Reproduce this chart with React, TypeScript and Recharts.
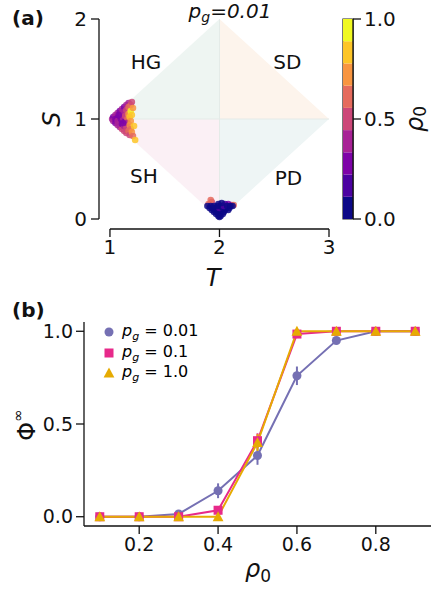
import React from "react";
import {
  ScatterChart,
  Scatter,
  XAxis,
  YAxis,
  ReferenceArea,
  ReferenceDot,
  ReferenceLine,
  BarChart,
  Bar,
  LineChart,
  Line,
  ErrorBar,
  Legend,
} from "recharts";

const FONT = "'DejaVu Sans', sans-serif";

// panel (a): points in the (T, S) plane, coloured by rho0
const hgCluster: [number, number, number][] = [
  [1.02, 1.0, 0.35], [1.03, 1.02, 0.3], [1.03, 0.98, 0.35], [1.05, 1.04, 0.35],
  [1.05, 0.96, 0.3], [1.05, 1.0, 0.25], [1.07, 1.06, 0.35], [1.07, 0.94, 0.35],
  [1.07, 1.01, 0.25], [1.07, 0.98, 0.4], [1.09, 1.08, 0.3], [1.09, 0.92, 0.4],
  [1.09, 1.03, 0.25], [1.09, 0.97, 0.35], [1.1, 1.0, 0.25], [1.11, 1.1, 0.35],
  [1.11, 0.9, 0.45], [1.11, 1.05, 0.35], [1.11, 0.95, 0.25], [1.12, 1.01, 0.4],
  [1.13, 1.12, 0.25], [1.13, 0.88, 0.5], [1.13, 1.07, 0.4], [1.13, 0.93, 0.35],
  [1.14, 0.98, 0.25], [1.14, 1.03, 0.45], [1.15, 1.14, 0.35], [1.15, 0.86, 0.55],
  [1.15, 1.09, 0.5], [1.15, 0.92, 0.45], [1.16, 1.0, 0.6], [1.16, 0.96, 0.35],
  [1.17, 1.16, 0.4], [1.17, 1.12, 0.65], [1.17, 1.05, 0.72], [1.17, 0.88, 0.6],
  [1.18, 1.02, 0.85], [1.18, 0.94, 0.72], [1.18, 0.84, 0.55], [1.19, 1.14, 0.6],
  [1.19, 1.08, 0.95], [1.19, 0.98, 0.72], [1.19, 0.9, 0.65], [1.2, 1.17, 0.5],
  [1.2, 1.04, 0.85], [1.2, 0.87, 0.72], [1.21, 1.11, 0.72], [1.21, 0.83, 0.6],
  [1.22, 0.93, 0.85], [1.23, 0.79, 0.85], [1.08, 1.04, 0.25], [1.12, 0.96, 0.25],
];

const pdCluster: [number, number, number][] = [
  [1.9, 0.15, 0.6], [1.93, 0.17, 0.55], [1.92, 0.19, 0.6], [2.11, 0.14, 0.5],
  [2.13, 0.14, 0.6], [2.08, 0.15, 0.25], [2.05, 0.15, 0.15],
  [2.0, 0.02, 0.05], [1.99, 0.03, 0.05], [2.01, 0.03, 0.05],
  [1.97, 0.05, 0.05], [2.0, 0.05, 0.05], [2.03, 0.05, 0.05],
  [1.95, 0.07, 0.05], [1.98, 0.07, 0.05], [2.01, 0.07, 0.05], [2.04, 0.07, 0.05],
  [1.93, 0.09, 0.05], [1.96, 0.09, 0.05], [1.99, 0.09, 0.05], [2.02, 0.09, 0.05],
  [2.05, 0.09, 0.05], [2.08, 0.09, 0.05],
  [1.91, 0.11, 0.05], [1.94, 0.11, 0.05], [1.97, 0.11, 0.05], [2.0, 0.11, 0.15],
  [2.03, 0.11, 0.05], [2.06, 0.11, 0.05], [2.09, 0.11, 0.05],
  [1.89, 0.13, 0.05], [1.92, 0.13, 0.05], [1.95, 0.13, 0.05], [1.98, 0.13, 0.05],
  [2.01, 0.13, 0.05], [2.04, 0.13, 0.15], [2.07, 0.13, 0.05], [2.1, 0.13, 0.05],
  [2.12, 0.13, 0.05], [1.99, 0.15, 0.05], [2.02, 0.16, 0.05],
];

// discrete plasma steps of the colour bar (bottom to top)
const plasmaSteps = [
  "#0d0887", "#4c02a1", "#7e03a8", "#a82296", "#cc4778",
  "#e56b5d", "#f89540", "#fdc527", "#f0f921",
];
const colorbarTicks = [0, 0.5, 1];

// panel (b)
const rhoValues = [0.1, 0.2, 0.3, 0.4, 0.5, 0.6, 0.7, 0.8, 0.9];
const phiPg001 = [0, 0, 0.015, 0.14, 0.33, 0.76, 0.95, 1.0, 1.0];
const errPg001 = [0, 0, 0.01, 0.04, 0.05, 0.05, 0.01, 0, 0];
const phiPg01 = [0, 0, 0, 0.035, 0.41, 0.985, 1.0, 1.0, 1.0];
const errPg01 = [0, 0, 0, 0.01, 0.04, 0.01, 0, 0, 0];
const phiPg1 = [0, 0, 0, 0, 0.4, 1.0, 1.0, 1.0, 1.0];
const errPg1 = [0, 0, 0, 0, 0.045, 0, 0, 0, 0];
const seriesNames = ["0.01", "0.1", "1.0"];

const colorFor = (rho: number) =>
  plasmaSteps[Math.min(plasmaSteps.length - 1, Math.floor(rho * plasmaSteps.length))];

const toPoints = (pts: [number, number, number][]) =>
  pts.map(([T, S, rho]) => ({ T, S, rho }));

const lineData = rhoValues.map((rho, i) => ({
  rho,
  a: phiPg001[i],
  ea: errPg001[i],
  b: phiPg01[i],
  eb: errPg01[i],
  c: phiPg1[i],
  ec: errPg1[i],
}));

const colorbarRow = [
  Object.fromEntries(
    [["name", "cb"], ...plasmaSteps.map((_, i) => [`b${i}`, 1 / plasmaSteps.length])]
  ),
];

const COLORS: Record<string, string> = {
  "0.01": "#7570b3",
  "0.1": "#e7298a",
  "1.0": "#e6ab02",
};

const pointShape = (p: any) => (
  <circle cx={p.cx} cy={p.cy} r={3.3} fill={colorFor(p.payload.rho)} fillOpacity={0.85} />
);

// triangles of the four game regions, drawn inside each reference rect
const triangle = (corner: string, fill: string) => (p: any) => {
  const { x, y, width: w, height: h } = p;
  const pts: Record<string, number[][]> = {
    HG: [[x, y + h], [x + w, y], [x + w, y + h]],
    SD: [[x, y], [x, y + h], [x + w, y + h]],
    SH: [[x, y], [x + w, y], [x + w, y + h]],
    PD: [[x, y], [x + w, y], [x, y + h]],
  };
  return <polygon points={pts[corner].map((q) => q.join(",")).join(" ")} fill={fill} />;
};

const marker = (name: string, cx: number, cy: number, s: number) => {
  const c = COLORS[name];
  if (name === "0.01") return <circle cx={cx} cy={cy} r={s * 0.5} fill={c} />;
  if (name === "0.1")
    return <rect x={cx - s * 0.5} y={cy - s * 0.5} width={s} height={s} fill={c} />;
  return (
    <polygon
      points={`${cx},${cy - s * 0.6} ${cx - s * 0.6},${cy + s * 0.5} ${cx + s * 0.6},${cy + s * 0.5}`}
      fill={c}
    />
  );
};

const dotFor = (name: string) => (p: any) =>
  <g key={`${name}-${p.index}`}>{marker(name, p.cx, p.cy, 9)}</g>;

const renderLegend = (props: any) => (
  <div style={{ fontFamily: FONT, fontSize: 16 }}>
    {(props.payload || []).map((entry: any) => (
      <div key={entry.value} style={{ display: "flex", alignItems: "center", height: 20.5 }}>
        <svg width={14} height={14} style={{ marginRight: 6 }}>
          {marker(entry.value, 7, 7, 9)}
        </svg>
        <span>
          <i>p</i>
          <sub style={{ fontSize: 11 }}>
            <i>g</i>
          </sub>
          {" = "}
          {entry.value}
        </span>
      </div>
    ))}
  </div>
);

const tickStyle = { fill: "#111", fontSize: 20, fontFamily: FONT };
const AXIS = "#111";

export default function App() {
  return (
    <div style={{ position: "relative", width: 431, height: 590, fontFamily: FONT }}>
      <style>{`body { margin: 0; }`}</style>

      <div style={{ position: "absolute", left: 0, top: 0 }}>
        <ScatterChart width={431} height={296} margin={{ top: 19, right: 102, bottom: 6, left: 0 }}>
          {/* domains reach a little past T=1 and S=0 so the spines sit offset, as in the figure */}
          <XAxis
            type="number"
            dataKey="T"
            domain={[0.9, 3]}
            ticks={[1, 2, 3]}
            height={61}
            tickSize={8}
            tickMargin={3}
            tick={tickStyle}
            axisLine={false}
            tickLine={{ stroke: AXIS, strokeWidth: 1.3 }}
            allowDataOverflow
          />
          <YAxis
            type="number"
            dataKey="S"
            domain={[-0.1, 2]}
            ticks={[0, 1, 2]}
            width={99}
            tickSize={8}
            tickMargin={4}
            tick={tickStyle}
            axisLine={false}
            tickLine={{ stroke: AXIS, strokeWidth: 1.3 }}
            allowDataOverflow
          />
          <ReferenceLine
            segment={[{ x: 1, y: -0.1 }, { x: 3, y: -0.1 }]}
            stroke={AXIS}
            strokeWidth={1.3}
            ifOverflow="visible"
          />
          <ReferenceLine
            segment={[{ x: 0.9, y: 0 }, { x: 0.9, y: 2 }]}
            stroke={AXIS}
            strokeWidth={1.3}
            ifOverflow="visible"
          />
          <ReferenceArea x1={1} x2={2} y1={1} y2={2} shape={triangle("HG", "#eef5f2")} />
          <ReferenceArea x1={2} x2={3} y1={1} y2={2} shape={triangle("SD", "#fdf4ec")} />
          <ReferenceArea x1={1} x2={2} y1={0} y2={1} shape={triangle("SH", "#fbf0f5")} />
          <ReferenceArea x1={2} x2={3} y1={0} y2={1} shape={triangle("PD", "#eef5f5")} />
          <ReferenceLine segment={[{ x: 2, y: 0 }, { x: 2, y: 2 }]} stroke="#e4ebe8" strokeWidth={1} />
          <ReferenceLine segment={[{ x: 1, y: 1 }, { x: 3, y: 1 }]} stroke="#e4ebe8" strokeWidth={1} />
          {[
            ["HG", 1.33, 1.57],
            ["SD", 2.62, 1.57],
            ["SH", 1.31, 0.43],
            ["PD", 2.63, 0.41],
          ].map(([name, t, s]) => (
            <ReferenceDot
              key={name as string}
              x={t as number}
              y={s as number}
              r={0}
              fill="none"
              stroke="none"
              label={{ value: name, position: "center", fontSize: 20, fill: "#111", fontFamily: FONT }}
            />
          ))}
          <Scatter data={toPoints(hgCluster)} shape={pointShape} isAnimationActive={false} />
          <Scatter data={toPoints(pdCluster)} shape={pointShape} isAnimationActive={false} />
          <text x={12} y={25} fontSize={20} fontWeight="bold" fontFamily={FONT} fill="#111">
            (a)
          </text>
          <text x={230} y={18} fontSize={20} fontStyle="italic" fontFamily={FONT} fill="#111" textAnchor="middle">
            p<tspan dy={4} fontSize={14}>g</tspan>
            <tspan dy={-4}>=0.01</tspan>
          </text>
          <text
            x={52}
            y={119}
            fontSize={24}
            fontStyle="italic"
            fontFamily={FONT}
            fill="#111"
            textAnchor="middle"
            dominantBaseline="central"
            transform="rotate(-90 52 119)"
          >
            S
          </text>
          <text x={213} y={286} fontSize={24} fontStyle="italic" fontFamily={FONT} fill="#111" textAnchor="middle">
            T
          </text>
        </ScatterChart>
      </div>

      <div style={{ position: "absolute", left: 330, top: 0 }}>
        <BarChart
          width={101}
          height={240}
          data={colorbarRow}
          margin={{ top: 19, right: 0, bottom: 21, left: 13 }}
          barCategoryGap={0}
        >
          <XAxis dataKey="name" hide />
          <YAxis
            orientation="right"
            type="number"
            domain={[0, 1]}
            ticks={colorbarTicks}
            tickFormatter={(v: number) => v.toFixed(1)}
            width={78}
            tickSize={8}
            tickMargin={3}
            tick={tickStyle}
            stroke={AXIS}
            strokeWidth={1.3}
          />
          {plasmaSteps.map((c, i) => (
            <Bar key={c} dataKey={`b${i}`} stackId="cb" fill={c} isAnimationActive={false} />
          ))}
          <ReferenceArea y1={0} y2={1} fill="none" stroke="#222" strokeWidth={1.2} fillOpacity={0} />
          <text
            x={85}
            y={119}
            fontSize={24}
            fontStyle="italic"
            fontFamily={FONT}
            fill="#111"
            textAnchor="middle"
            dominantBaseline="central"
            transform="rotate(-90 85 119)"
          >
            ρ<tspan dy={5} fontSize={17} fontStyle="normal">0</tspan>
          </text>
        </BarChart>
      </div>

      <div style={{ position: "absolute", left: 0, top: 290 }}>
        <LineChart width={431} height={300} data={lineData} margin={{ top: 32, right: 0, bottom: 0, left: 0 }}>
          <XAxis
            type="number"
            dataKey="rho"
            domain={[0.06, 0.94]}
            ticks={[0.2, 0.4, 0.6, 0.8]}
            tickFormatter={(v: number) => v.toFixed(1)}
            height={64}
            tickSize={8}
            tickMargin={4}
            tick={{ ...tickStyle, fontSize: 19 }}
            stroke={AXIS}
            strokeWidth={1.3}
            allowDataOverflow
          />
          <YAxis
            type="number"
            domain={[-0.05, 1.05]}
            ticks={[0, 0.5, 1]}
            tickFormatter={(v: number) => v.toFixed(1)}
            width={84}
            tickSize={8}
            tickMargin={3}
            tick={{ ...tickStyle, fontSize: 19 }}
            stroke={AXIS}
            strokeWidth={1.3}
            allowDataOverflow
          />
          <Legend
            layout="vertical"
            align="center"
            verticalAlign="middle"
            content={renderLegend}
            wrapperStyle={{ left: 102, top: 32, width: 160 }}
          />
          <Line
            name={seriesNames[0]}
            dataKey="a"
            stroke={COLORS["0.01"]}
            strokeWidth={2}
            dot={dotFor("0.01")}
            isAnimationActive={false}
          >
            <ErrorBar dataKey="ea" width={0} stroke={COLORS["0.01"]} strokeWidth={2} direction="y" />
          </Line>
          <Line
            name={seriesNames[1]}
            dataKey="b"
            stroke={COLORS["0.1"]}
            strokeWidth={2}
            dot={dotFor("0.1")}
            isAnimationActive={false}
          >
            <ErrorBar dataKey="eb" width={0} stroke={COLORS["0.1"]} strokeWidth={2} direction="y" />
          </Line>
          <Line
            name={seriesNames[2]}
            dataKey="c"
            stroke={COLORS["1.0"]}
            strokeWidth={2}
            dot={dotFor("1.0")}
            isAnimationActive={false}
          >
            <ErrorBar dataKey="ec" width={0} stroke={COLORS["1.0"]} strokeWidth={2} direction="y" />
          </Line>
          <text x={12} y={27} fontSize={20} fontWeight="bold" fontFamily={FONT} fill="#111">
            (b)
          </text>
          <text
            x={27}
            y={135}
            fontSize={24}
            fontFamily={FONT}
            fill="#111"
            textAnchor="middle"
            dominantBaseline="central"
            transform="rotate(-90 27 135)"
          >
            Φ<tspan dy={-9} fontSize={15}>∞</tspan>
          </text>
          <text x={258} y={287} fontSize={24} fontStyle="italic" fontFamily={FONT} fill="#111" textAnchor="middle">
            ρ<tspan dy={5} fontSize={17} fontStyle="normal">0</tspan>
          </text>
        </LineChart>
      </div>
    </div>
  );
}
